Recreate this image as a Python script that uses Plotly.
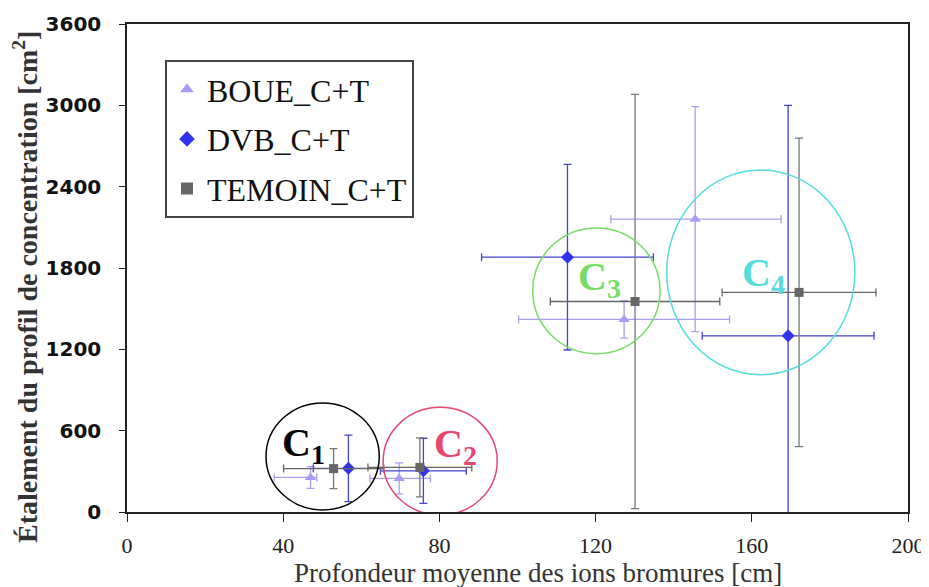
import plotly.graph_objects as go

# ---------------- data ----------------
boue_x = [47.0, 69.7, 127.3, 145.5]
boue_y = [255, 248, 1421, 2160]
boue_xerr_plus = [1.6, 8.0, 27.0, 22.0]
boue_xerr_minus = [9.3, 7.5, 27.0, 21.6]
boue_yerr = [80, 115, 139, 830]

dvb_x = [56.7, 75.9, 112.8, 169.3]
dvb_y = [322, 304, 1880, 1300]
dvb_xerr = [9.0, 11.0, 22.0, 22.0]
dvb_yerr = [245, 240, 685, 1700]

tem_x = [52.9, 75.0, 130.1, 172.1]
tem_y = [320, 329, 1553, 1620]
tem_xerr = [12.8, 13.3, 21.7, 19.7]
tem_yerr = [147, 218, 1528, 1138]

series_names = ["BOUE_C+T", "DVB_C+T", "TEMOIN_C+T"]

# groups: name, x-center, x-radius, y-center, y-radius
group_names = ["C<sub>1</sub>", "C<sub>2</sub>", "C<sub>3</sub>", "C<sub>4</sub>"]
group_cx = [50.1, 80.2, 120.2, 162.3]
group_rx = [14.5, 14.6, 16.3, 24.1]
group_cy = [410, 375, 1632, 1768]
group_ry = [395, 397, 464, 755]
group_label_x = [45.1, 84.0, 121.0, 163.0]
group_label_y = [493, 486, 1716, 1752]
group_colors = ["#000000", "#e8466e", "#77dd66", "#55dddd"]

x_ticks = [0, 40, 80, 120, 160, 200]
y_ticks = [0, 600, 1200, 1800, 2400, 3000, 3600]

# ---------------- figure ----------------
fig = go.Figure()

fig.add_trace(go.Scatter(
    x=boue_x, y=boue_y, mode="markers", name=series_names[0],
    legendgroup="a",
    marker=dict(symbol="triangle-up", size=10, color="#a99bf7"),
    error_x=dict(type="data", array=boue_xerr_plus, arrayminus=boue_xerr_minus,
                 symmetric=False, color="#aa9ef0", thickness=1.3, width=4),
    error_y=dict(type="data", array=boue_yerr, color="#aa9ef0", thickness=1.3, width=4),
))
fig.add_trace(go.Scatter(
    x=dvb_x, y=dvb_y, mode="markers", name=series_names[1],
    legendgroup="b",
    marker=dict(symbol="diamond", size=10, color="#3333ee"),
    error_x=dict(type="data", array=dvb_xerr, color="#4444cc", thickness=1.3, width=4),
    error_y=dict(type="data", array=dvb_yerr, color="#4444cc", thickness=1.3, width=4),
))
fig.add_trace(go.Scatter(
    x=tem_x, y=tem_y, mode="markers", name=series_names[2],
    legendgroup="c",
    marker=dict(symbol="square", size=9, color="#666666"),
    error_x=dict(type="data", array=tem_xerr, color="#666666", thickness=1.3, width=4),
    error_y=dict(type="data", array=tem_yerr, color="#777777", thickness=1.3, width=4),
))

# page body has an 8px margin: work in window pixels, then shift
OFF = 8
W, H = 929 - OFF, 587 - OFF
L, T = 127 - OFF, 24 - OFF
R = W - (908 - OFF)
B = H - (512 - OFF)
pw, ph = W - L - R, H - T - B


def px_x(v):
    return (v - OFF - L) / pw


def px_y(v):
    return (H - B - (v - OFF)) / ph


shapes = []
annotations = []
for i in range(len(group_names)):
    shapes.append(dict(
        type="circle", xref="x", yref="y",
        x0=group_cx[i] - group_rx[i], x1=group_cx[i] + group_rx[i],
        y0=group_cy[i] - group_ry[i], y1=group_cy[i] + group_ry[i],
        line=dict(color=group_colors[i], width=1.5),
    ))
    annotations.append(dict(
        x=group_label_x[i], y=group_label_y[i], xref="x", yref="y",
        text="<b>" + group_names[i] + "</b>", showarrow=False,
        xanchor="center", yanchor="middle",
        font=dict(family="Liberation Serif", size=40, color=group_colors[i]),
    ))

annotations.append(dict(
    x=px_x(538), y=px_y(573), xref="paper", yref="paper",
    xanchor="center", yanchor="middle",
    text="Profondeur moyenne des ions bromures [cm]", showarrow=False,
    font=dict(family="Liberation Serif", size=27, color="#333333"),
))
annotations.append(dict(
    x=px_x(25), y=px_y(287), xref="paper", yref="paper",
    xanchor="center", yanchor="middle",
    text="<b>Étalement du profil de concentration [cm<sup>2</sup>]</b>",
    textangle=-90, showarrow=False,
    font=dict(family="Liberation Serif", size=28, color="#333333"),
))

fig.update_layout(
    width=W, height=H,
    margin=dict(l=L, r=R, t=T, b=B, autoexpand=False),
    paper_bgcolor="white", plot_bgcolor="white",
    shapes=shapes, annotations=annotations,
    showlegend=True,
    legend=dict(
        x=px_x(165), y=px_y(60), xanchor="left", yanchor="top",
        bordercolor="#444444", borderwidth=2, bgcolor="white",
        font=dict(family="Liberation Serif", size=32, color="#111111"),
        itemsizing="constant", tracegroupgap=5,
    ),
)
fig.update_xaxes(
    range=[0, 200], tickvals=x_ticks, ticktext=[str(v) for v in x_ticks],
    showgrid=False, zeroline=False, automargin=False,
    showline=True, linecolor="#222222", linewidth=1.5, mirror=True,
    ticks="outside", ticklen=8, tickcolor="#222222",
    tickfont=dict(family="Liberation Sans Narrow", size=22, color="#222222"),
    ticklabelstandoff=5,
)
fig.update_yaxes(
    range=[0, 3600], tickvals=y_ticks, ticktext=[str(v) for v in y_ticks],
    showgrid=False, zeroline=False, automargin=False,
    showline=True, linecolor="#222222", linewidth=1.5, mirror=True,
    ticks="outside", ticklen=6, tickcolor="#222222",
    tickfont=dict(family="DejaVu Sans", size=20, color="#111111", weight="bold"),
    ticklabelstandoff=14,
)

fig.write_html("out.html")
